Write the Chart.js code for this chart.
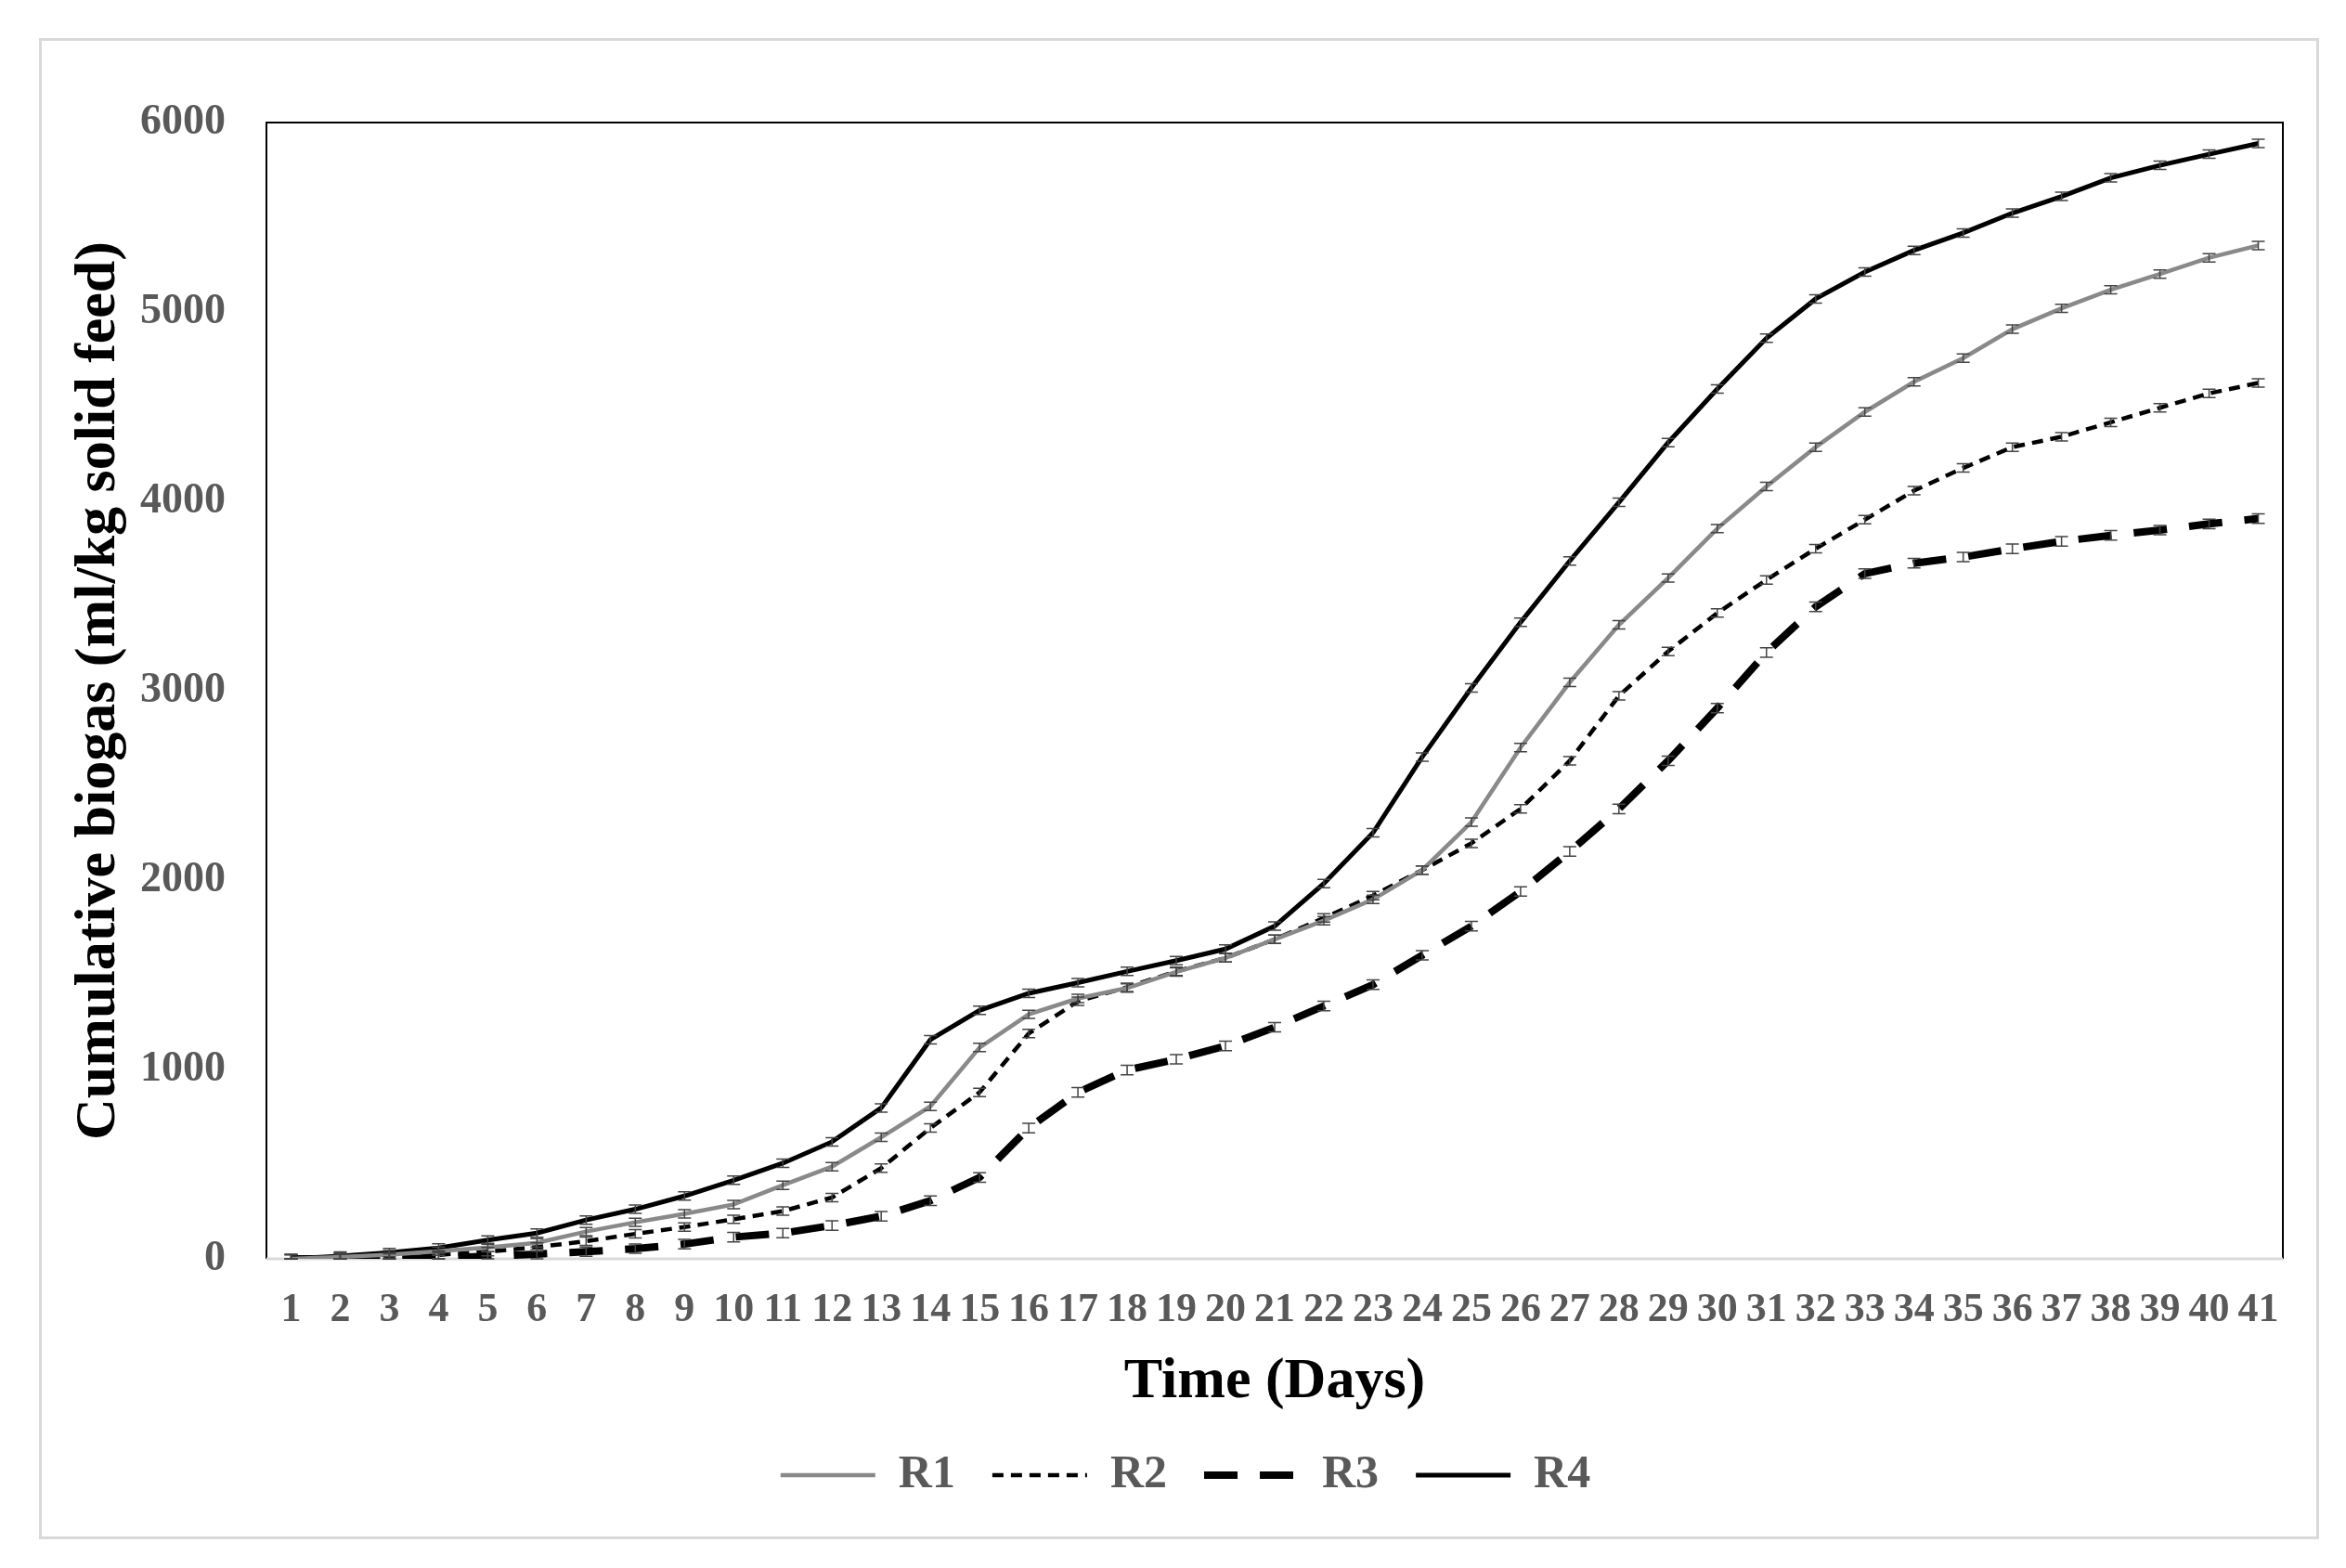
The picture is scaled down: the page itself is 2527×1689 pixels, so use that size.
<!DOCTYPE html>
<html>
<head>
<meta charset="utf-8">
<title>Cumulative biogas</title>
<script src="https://cdn.jsdelivr.net/npm/chart.js@4.4.1/dist/chart.umd.min.js"></script>
<style>
    html, body { margin: 0; padding: 0; background: #fff; }
    #wrap { position: absolute; left: 0; top: 0; width: 2527px; height: 1689px; }
    #frame { position: absolute; left: 42px; top: 41px; width: 2450px; height: 1611px; border: 3px solid #d9d9d9; }
    #biogasChart { position: absolute; left: 0; top: 0; }
</style>
</head>
<body>
<div id="wrap">
    <div id="frame"></div>
    <canvas id="biogasChart" width="2527" height="1689"></canvas>
</div>
<script>
// Days on the x axis
const days = ['1', '2', '3', '4', '5', '6', '7', '8', '9', '10',
    '11', '12', '13', '14', '15', '16', '17', '18', '19', '20',
    '21', '22', '23', '24', '25', '26', '27', '28', '29', '30',
    '31', '32', '33', '34', '35', '36', '37', '38', '39', '40', '41'];

// Cumulative biogas (ml/kg solid feed)
const r1 = [0, 10, 22, 40, 60, 85, 144, 193, 238, 287,
    389, 487, 642, 805, 1116, 1291, 1375, 1430, 1515, 1589,
    1687, 1786, 1898, 2053, 2306, 2700, 3044, 3348, 3595, 3856,
    4078, 4286, 4472, 4631, 4756, 4909, 5019, 5117, 5200, 5286, 5351];
const r2 = [0, 5, 10, 21, 38, 62, 93, 132, 168, 209,
    252, 324, 479, 691, 879, 1190, 1360, 1434, 1518, 1589,
    1687, 1800, 1918, 2053, 2194, 2376, 2630, 2973, 3207, 3410,
    3585, 3750, 3903, 4056, 4176, 4286, 4341, 4417, 4494, 4570, 4625];
const r3 = [0, 0, 2, 5, 13, 25, 38, 54, 78, 115,
    136, 176, 225, 307, 430, 691, 879, 997, 1054, 1124,
    1223, 1335, 1448, 1603, 1757, 1940, 2151, 2376, 2630, 2908,
    3202, 3443, 3618, 3673, 3706, 3749, 3789, 3820, 3848, 3881, 3909];
const r4 = [0, 15, 33, 58, 99, 136, 205, 262, 332, 415,
    505, 618, 797, 1157, 1312, 1402, 1458, 1518, 1575, 1636,
    1757, 1982, 2250, 2650, 3015, 3361, 3685, 3995, 4310, 4593,
    4861, 5069, 5211, 5325, 5417, 5522, 5610, 5708, 5774, 5833, 5890];

// Size of the small error bars (same order as the series)
const errorMargin = [22, 22, 25, 22];

const serif = "'Liberation Serif', 'Times New Roman', serif";

// Plot area border: black on three sides, light grey axis line at the bottom
const plotFrame = {
    id: 'plotFrame',
    beforeDatasetsDraw(chart) {
        const { ctx, chartArea: a } = chart;
        ctx.save();
        ctx.strokeStyle = '#000';
        ctx.lineWidth = 2;
        ctx.beginPath();
        ctx.moveTo(a.left, a.bottom);
        ctx.lineTo(a.left, a.top);
        ctx.lineTo(a.right, a.top);
        ctx.lineTo(a.right, a.bottom);
        ctx.stroke();
        ctx.strokeStyle = '#d9d9d9';
        ctx.lineWidth = 3;
        ctx.beginPath();
        ctx.moveTo(a.left, a.bottom);
        ctx.lineTo(a.right, a.bottom);
        ctx.stroke();
        ctx.restore();
    }
};

// Little I-shaped error bars at every point
const errorBars = {
    id: 'errorBars',
    afterDatasetsDraw(chart) {
        const { ctx, scales: { x, y }, chartArea: a } = chart;
        ctx.save();
        ctx.strokeStyle = '#444';
        ctx.lineWidth = 1.5;
        chart.data.datasets.forEach((ds, i) => {
            const err = errorMargin[i];
            ds.data.forEach((v, j) => {
                const px = x.getPixelForValue(j);
                const top = y.getPixelForValue(v + err);
                const bot = Math.min(y.getPixelForValue(v - err), a.bottom);
                ctx.beginPath();
                ctx.moveTo(px, top);
                ctx.lineTo(px, bot);
                ctx.moveTo(px - 7, top);
                ctx.lineTo(px + 7, top);
                ctx.moveTo(px - 7, bot);
                ctx.lineTo(px + 7, bot);
                ctx.stroke();
            });
        });
        ctx.restore();
    }
};

const ctx = document.getElementById('biogasChart').getContext('2d');
const biogasChart = new Chart(ctx, {
    type: 'line',
    data: {
        labels: days,
        datasets: [
            { label: 'R1', data: r1, borderColor: '#898989', backgroundColor: '#898989', borderWidth: 4.5 },
            { label: 'R2', data: r2, borderColor: '#000', backgroundColor: '#000', borderWidth: 4.5, borderDash: [12, 8] },
            { label: 'R3', data: r3, borderColor: '#000', backgroundColor: '#000', borderWidth: 8, borderDash: [36, 24] },
            { label: 'R4', data: r4, borderColor: '#000', backgroundColor: '#000', borderWidth: 5 }
        ]
    },
    options: {
        responsive: false,
        animation: false,
        devicePixelRatio: 1,
        elements: {
            point: { radius: 0 },
            line: { tension: 0, fill: false }
        },
        layout: {
            padding: { left: 95, right: 68, top: 132, bottom: 65 }
        },
        plugins: {
            legend: {
                position: 'bottom',
                labels: {
                    usePointStyle: true,
                    pointStyle: 'line',
                    pointStyleWidth: 102,
                    padding: 40,
                    color: '#595959',
                    font: { family: serif, size: 50, weight: 'bold' },
                    // take the dash pattern and width from the line itself
                    generateLabels: chart => {
                        const items = Chart.defaults.plugins.legend.labels.generateLabels(chart);
                        items.forEach(item => {
                            const ds = chart.data.datasets[item.datasetIndex];
                            item.lineDash = ds.borderDash || [];
                            item.lineWidth = ds.borderWidth;
                            item.strokeStyle = ds.borderColor;
                        });
                        return items;
                    }
                }
            },
            tooltip: { enabled: false }
        },
        scales: {
            x: {
                offset: true,
                grid: { display: false, drawTicks: false },
                border: { display: false },
                ticks: {
                    autoSkip: false,
                    maxRotation: 0,
                    padding: 34,
                    color: '#595959',
                    font: { family: serif, size: 44, weight: 'bold', lineHeight: 1 }
                },
                title: {
                    display: true,
                    text: 'Time (Days)',
                    color: '#000',
                    font: { family: serif, size: 62, weight: 'bold', lineHeight: 1 },
                    padding: { top: 0, bottom: 4 }
                },
                afterFit: scale => { scale.height = 168; }
            },
            y: {
                min: 0,
                max: 6000,
                grid: { display: false, drawTicks: false },
                border: { display: false },
                ticks: {
                    stepSize: 1000,
                    padding: 44,
                    color: '#595959',
                    font: { family: serif, size: 46, weight: 'bold', lineHeight: 1 },
                    callback: value => String(value)
                },
                title: {
                    display: true,
                    text: 'Cumulative biogas (ml/kg solid feed)',
                    color: '#000',
                    font: { family: serif, size: 62, weight: 'bold', lineHeight: 1 },
                    padding: { top: -19, bottom: 0 }
                },
                afterFit: scale => { scale.width = 192; }
            }
        }
    },
    plugins: [plotFrame, errorBars]
});
</script>
</body>
</html>
